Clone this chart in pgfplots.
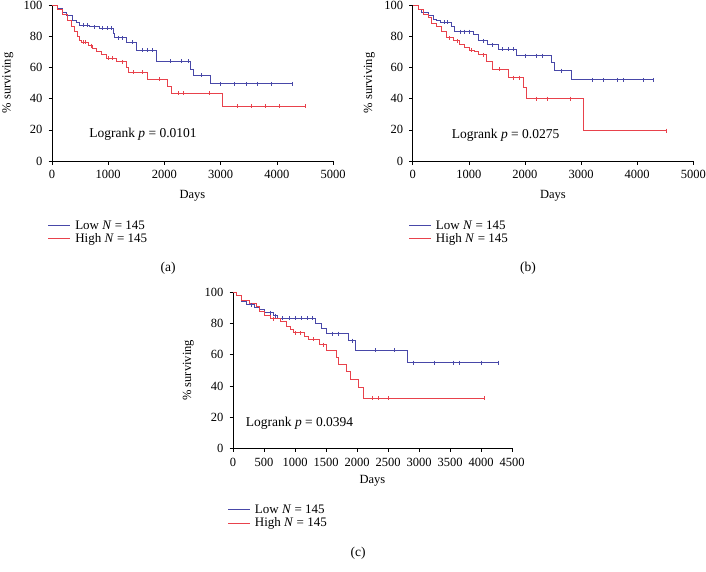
\documentclass[border=0pt]{standalone}
\usepackage{fontspec}
\setmainfont{Liberation Serif}
\usepackage{pgfplots}
\pgfplotsset{compat=1.18}
\definecolor{kmblue}{RGB}{72,72,168}
\definecolor{kmred}{RGB}{232,66,76}
\newcommand{\ft}{\fontsize{12.5}{15}\selectfont}
\newcommand{\fs}{\fontsize{13.5}{16}\selectfont}
\newcommand{\fl}{\fontsize{13}{15.5}\selectfont}

\pgfplotsset{
 km/.style={
  scale only axis, height=156pt,
  axis lines=left, axis line style={-, line width=0.6pt},
  tick align=outside, major tick length=3.5pt, tick style={black, line width=0.6pt},
  ymin=0, ymax=100, ytick={0,20,...,100},
  /pgf/number format/assume math mode=true,
  /pgf/number format/1000 sep={},
  ticklabel style={font=\ft},
  xticklabel style={yshift=-2.5pt},
  yticklabel style={xshift=-2.5pt},
  label style={font=\ft},
  xlabel={Days}, ylabel={\% surviving},
  clip=false,
  legend cell align=left,
  legend image code/.code={\draw[##1, line width=0.8pt] (0pt,0pt) -- (22pt,0pt);},
  legend style={draw=none, fill=none, inner sep=0pt, row sep=0pt, column sep=3pt,
    font=\fl, nodes={inner sep=1.5pt, font=\fl}, anchor=north west},
 },
 surv/.style={const plot, line width=0.9pt, mark=none},
 cens/.style={only marks, mark=|, mark size=2pt, mark options={line width=0.5pt}, forget plot},
}

\begin{document}
\begin{tikzpicture}[font=\fs]
\path[use as bounding box] (0,0) rectangle (706pt,-571pt);

% ---------------- (a) ----------------
\begin{axis}[km, at={(52pt,-161pt)}, anchor=south west, width=281pt,
  xmin=0, xmax=5000, xtick={0,1000,...,5000},
  xlabel style={at={(axis description cs:0.5,-0.224)}, anchor=center},
  ylabel style={at={(axis description cs:-0.157,0.5)}, anchor=center},
  legend style={at={(axis description cs:-0.015,-0.37)}}]
\addplot[surv, kmblue] coordinates {(0,100)(100,97.5)(190,95)(250,93.5)(370,90)(430,88.5)(490,87)(670,86)(850,85)(1090,82)(1120,79)(1330,76)(1500,71)(1860,64)(2460,59)(2520,55)(2820,49.5)(4270,49.5)};
\addlegendentry{Low \textit{N} = 145}
\addplot[surv, kmred] coordinates {(0,100)(100,97)(190,94)(280,90)(340,86)(400,83)(460,80)(490,77.5)(520,76)(650,74)(720,72)(790,70)(880,68)(960,66)(1150,63.5)(1320,60)(1360,57)(1690,52.5)(2060,48)(2120,43.5)(3040,35)(4500,35)};
\addlegendentry{High \textit{N} = 145}
\addplot[cens, kmblue] coordinates {(560,87)(620,87)(760,86)(900,85)(980,85)(1050,85)(1180,79)(1250,79)(1420,76)(1600,71)(1700,71)(1790,71)(2100,64)(2300,64)(2420,64)(2650,55)(3000,49.5)(3250,49.5)(3450,49.5)(3650,49.5)(3900,49.5)(4270,49.5)};
\addplot[cens, kmred] coordinates {(560,76)(600,76)(700,74)(1000,66)(1080,66)(1250,63.5)(1450,57)(1600,57)(1900,52.5)(2250,43.5)(2330,43.5)(2800,43.5)(3300,35)(3550,35)(3800,35)(4050,35)(4500,35)};
\node[anchor=west, inner sep=0pt, font=\fs] at (axis cs:660,17.3) {Logrank \textit{p} = 0.0101};
\end{axis}

% ---------------- (b) ----------------
\begin{axis}[km, at={(412.7pt,-161pt)}, anchor=south west, width=280.6pt,
  xmin=0, xmax=5000, xtick={0,1000,...,5000},
  xlabel style={at={(axis description cs:0.5,-0.224)}, anchor=center},
  ylabel style={at={(axis description cs:-0.155,0.5)}, anchor=center},
  legend style={at={(axis description cs:-0.015,-0.37)}}]
\addplot[surv, kmblue] coordinates {(0,100)(100,97)(160,95)(280,93)(370,91)(430,90)(490,89)(690,86)(750,83)(1090,81)(1170,77)(1340,74.5)(1520,71.5)(1850,67.5)(2470,63)(2530,58)(2820,52)(4280,52)};
\addlegendentry{Low \textit{N} = 145}
\addplot[surv, kmred] coordinates {(0,100)(100,97)(200,94)(280,92)(340,88)(430,86)(520,83)(600,79)(720,77)(840,75)(930,73)(1020,71)(1100,70.5)(1170,68)(1320,63.5)(1420,59)(1700,53.5)(1980,47)(2030,40)(3040,19.5)(4510,19.5)};
\addlegendentry{High \textit{N} = 145}
\addplot[cens, kmblue] coordinates {(560,89)(620,89)(850,83)(920,83)(1000,83)(1250,77)(1420,74.5)(1600,71.5)(1700,71.5)(1800,71.5)(2000,67.5)(2200,67.5)(2300,67.5)(2650,58)(3200,52)(3400,52)(3650,52)(3750,52)(4100,52)(4280,52)};
\addplot[cens, kmred] coordinates {(650,79)(800,77)(1050,71)(1250,68)(1550,59)(1800,53.5)(1900,53.5)(2200,40)(2400,40)(2800,40)(4510,19.5)};
\node[anchor=west, inner sep=0pt, font=\fs] at (axis cs:695,16.7) {Logrank \textit{p} = 0.0275};
\end{axis}

% ---------------- (c) ----------------
\begin{axis}[km, at={(233pt,-448.3pt)}, anchor=south west, width=279pt,
  xmin=0, xmax=4500, xtick={0,500,...,4500},
  xlabel style={at={(axis description cs:0.5,-0.21)}, anchor=center},
  ylabel style={at={(axis description cs:-0.16,0.5)}, anchor=center},
  legend style={at={(axis description cs:-0.02,-0.35)}}]
\addplot[surv, kmblue] coordinates {(0,100)(60,98)(140,94)(220,92)(350,90.5)(430,89)(510,87)(650,85)(720,83.5)(1330,80)(1420,77)(1500,73.5)(1860,69)(1980,63)(2810,55)(4285,55)};
\addlegendentry{Low \textit{N} = 145}
\addplot[surv, kmred] coordinates {(0,100)(60,98)(140,95)(270,93)(380,91)(430,88)(510,85)(600,83)(760,81)(860,78)(920,76)(970,74)(1160,72)(1210,70)(1400,66.5)(1510,62.5)(1670,58)(1700,54)(1830,49)(1890,44)(2030,39)(2110,32)(4050,32)};
\addlegendentry{High \textit{N} = 145}
\addplot[cens, kmblue] coordinates {(300,92)(600,87)(680,85)(800,83.5)(900,83.5)(1000,83.5)(1100,83.5)(1200,83.5)(1280,83.5)(1600,73.5)(1700,73.5)(1920,69)(2300,63)(2600,63)(2900,55)(3250,55)(3560,55)(3650,55)(4000,55)(4285,55)};
\addplot[cens, kmred] coordinates {(650,83)(1000,74)(1080,74)(1300,70)(1450,66.5)(2250,32)(2350,32)(2500,32)(4050,32)};
\node[anchor=west, inner sep=0pt, font=\fs] at (axis cs:205,16) {Logrank \textit{p} = 0.0394};
\end{axis}

\node[font=\fs] at (168pt,-268pt) {(a)};
\node[font=\fs] at (528pt,-268pt) {(b)};
\node[font=\fs] at (358pt,-553pt) {(c)};
\end{tikzpicture}
\end{document}
